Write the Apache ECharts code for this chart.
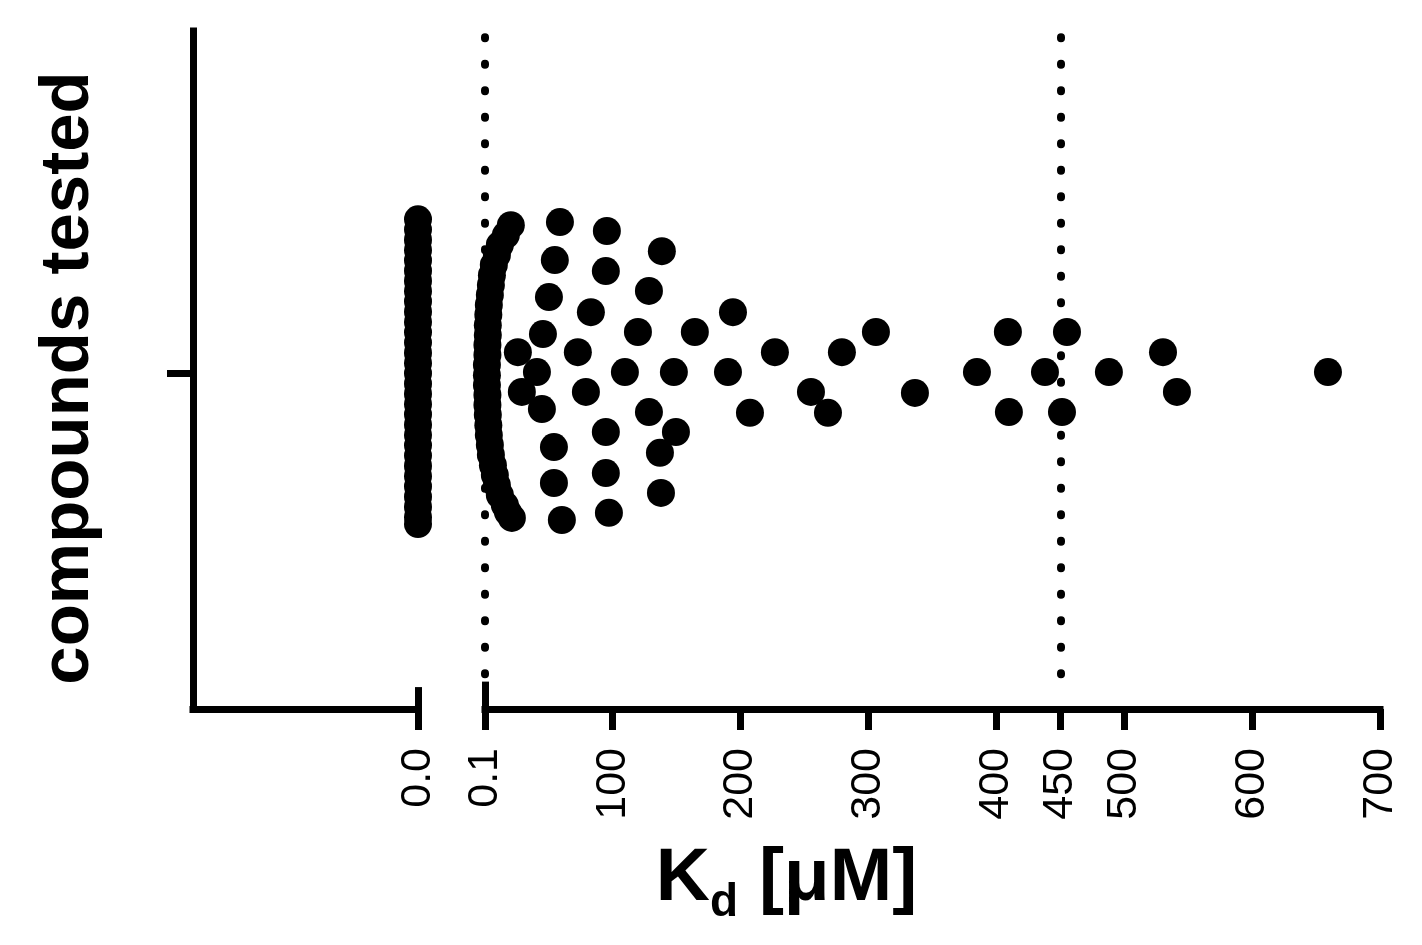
<!DOCTYPE html>
<html>
<head>
<meta charset="utf-8">
<script src="https://cdn.jsdelivr.net/npm/echarts@6/dist/echarts.min.js"></script>
<style>
  html, body { margin: 0; padding: 0; background: #fff; }
  #chart { width: 1422px; height: 945px; }
</style>
</head>
<body>
<div id="chart"></div>
<script>
// Kd = 0 (no binding) column, vertical position inside the swarm
var zeroOffsets = [0.45, 0.42, 0.39, 0.36, 0.33, 0.30, 0.27, 0.24, 0.21, 0.18, 0.15, 0.12, 0.09, 0.06, 0.03, 0.00,
  -0.03, -0.06, -0.09, -0.12, -0.15, -0.18, -0.21, -0.24, -0.27, -0.30, -0.33, -0.36, -0.39, -0.42, -0.44]

// binders, Kd in uM and vertical position inside the swarm
var kdValues = [
  20.3, 16.4, 11.7, 9.4, 7.0, 5.5, 4.7, 3.9, 3.1, 2.7, 2.3, 2.3, 2.0, 2.0, 1.6, 1.6,
  1.6, 2.0, 2.0, 2.3, 2.7, 3.1, 3.9, 4.7, 6.3, 7.8, 9.4, 11.7, 15.6, 18.0, 21.1,
  58.7, 95.4, 138.4, 54.7, 94.6, 50.1, 128.3, 82.9, 45.4, 119.7, 164.2, 25.8, 72.7, 40.7, 109.5, 147.8,
  28.9, 79.0, 44.6, 128.3, 94.6, 149.4, 54.0, 136.9, 94.6, 54.0, 137.7, 97.0, 60.2,
  194.0, 226.8, 279.2, 305.8, 190.1, 255.0, 268.3, 207.3, 336.3, 384.8, 409.0, 409.8,
  455.2, 438.0, 488.0, 530.3, 541.2, 451.3, 659.3
]
var swarmOffsets = [
  0.433, 0.404, 0.375, 0.346, 0.317, 0.287, 0.258, 0.229, 0.200, 0.171, 0.141, 0.112, 0.083, 0.054, 0.025, -0.005,
  -0.034, -0.063, -0.092, -0.121, -0.151, -0.180, -0.209, -0.238, -0.268, -0.297, -0.326, -0.355, -0.384, -0.405, -0.422,
  0.442, 0.416, 0.357, 0.331, 0.299, 0.223, 0.241, 0.179, 0.115, 0.121, 0.121, 0.062, 0.062, 0.004, 0.004, 0.004,
  -0.054, -0.054, -0.104, -0.113, -0.171, -0.171, -0.215, -0.232, -0.291, -0.320, -0.349, -0.407, -0.428,
  0.179, 0.062, 0.062, 0.121, 0.004, -0.054, -0.115, -0.115, -0.057, 0.004, 0.121, -0.113,
  0.121, 0.004, 0.004, 0.062, -0.054, -0.113, 0.004
]

var xTicks = [0.1, 100, 200, 300, 400, 450, 500, 600, 700]
var refLines = [0.1, 450]

var font = "'Liberation Sans', Arial, sans-serif"
var yMin = -0.98
var yMax = 1

var chart = echarts.init(document.getElementById('chart'))

var zeroData = zeroOffsets.map(function(o) { return [0, o] })
var binderData = kdValues.map(function(v, i) { return [v, swarmOffsets[i]] })

// dotted reference lines and the broken-axis end caps
var dotted = { color: '#000', width: 8, type: [1, 25.5], cap: 'round' }
var solid = { color: '#000', width: 7, type: 'solid' }
var refData = refLines.map(function(v) {
  return [{ coord: [v, 0.982], lineStyle: dotted }, { coord: [v, -0.904] }]
})
refData.push([{ coord: [0.1, yMin], lineStyle: solid }, { coord: [0.1, -0.9] }])

var axisLineStyle = { color: '#000', width: 7, cap: 'square' }
var tickStyle = { color: '#000', width: 7 }
var labelStyle = { color: '#000', fontSize: 43, fontFamily: font, rotate: 90, margin: 39 }

var option = {
  animation: false,
  backgroundColor: '#fff',
  grid: [
    { left: 193, width: 225, top: 31, bottom: 236 },
    { left: 485, right: 42, top: 31, bottom: 236 },
    { left: 193, right: 42, top: 31, bottom: 236 }
  ],
  xAxis: [
    {
      gridIndex: 0, type: 'value', min: -1, max: 0,
      axisLine: { onZero: false, lineStyle: axisLineStyle },
      axisTick: { customValues: [0], length: 21, lineStyle: tickStyle },
      axisLabel: Object.assign({ customValues: [0], formatter: function(v) { return v.toFixed(1) } }, labelStyle),
      splitLine: { show: false }
    },
    {
      gridIndex: 1, type: 'value', min: 0.1, max: 700,
      axisLine: { onZero: false, lineStyle: axisLineStyle },
      axisTick: { customValues: xTicks, length: 21, lineStyle: tickStyle },
      axisLabel: Object.assign({ customValues: xTicks, formatter: function(v) { return v === 0.1 ? '0.1' : String(v) } }, labelStyle),
      splitLine: { show: false }
    },
    {
      gridIndex: 2, type: 'value', min: 0, max: 1,
      axisLine: { show: false }, axisTick: { show: false }, axisLabel: { show: false }, splitLine: { show: false },
      name: 'K{sub|d} [μM]',
      nameLocation: 'middle',
      nameGap: 133,
      nameTextStyle: {
        color: '#000', fontSize: 75, fontWeight: 'bold', fontFamily: font, lineHeight: 75,
        rich: { sub: { fontSize: 46, fontWeight: 'bold', fontFamily: font, color: '#000', lineHeight: 46, padding: [47, 0, 0, 0] } }
      }
    }
  ],
  yAxis: [
    {
      gridIndex: 0, type: 'value', min: yMin, max: yMax,
      axisLine: { show: true, onZero: false, lineStyle: axisLineStyle },
      axisTick: { show: true, customValues: [0], length: 26, lineStyle: tickStyle },
      axisLabel: { show: false },
      splitLine: { show: false },
      name: 'compounds tested',
      nameLocation: 'middle',
      nameGap: 90,
      nameTextStyle: { color: '#000', fontSize: 69, fontWeight: 'bold', fontFamily: font, padding: [0, 16, 0, 0] }
    },
    { gridIndex: 1, type: 'value', min: yMin, max: yMax, show: false },
    { gridIndex: 2, type: 'value', min: yMin, max: yMax, show: false }
  ],
  series: [
    {
      name: 'Kd = 0',
      type: 'scatter',
      xAxisIndex: 0, yAxisIndex: 0,
      clip: false,
      symbolSize: 28,
      itemStyle: { color: '#000', opacity: 1 },
      data: zeroData,
      markLine: {
        silent: true, symbol: ['none', 'none'], label: { show: false },
        data: [[{ coord: [0, yMin], lineStyle: solid }, { coord: [0, -0.916] }]]
      }
    },
    {
      name: 'Kd',
      type: 'scatter',
      xAxisIndex: 1, yAxisIndex: 1,
      clip: false,
      symbolSize: 28,
      itemStyle: { color: '#000', opacity: 1 },
      data: binderData,
      markLine: {
        silent: true, symbol: ['none', 'none'], label: { show: false },
        data: refData
      }
    }
  ]
}
chart.setOption(option)
</script>
</body>
</html>
